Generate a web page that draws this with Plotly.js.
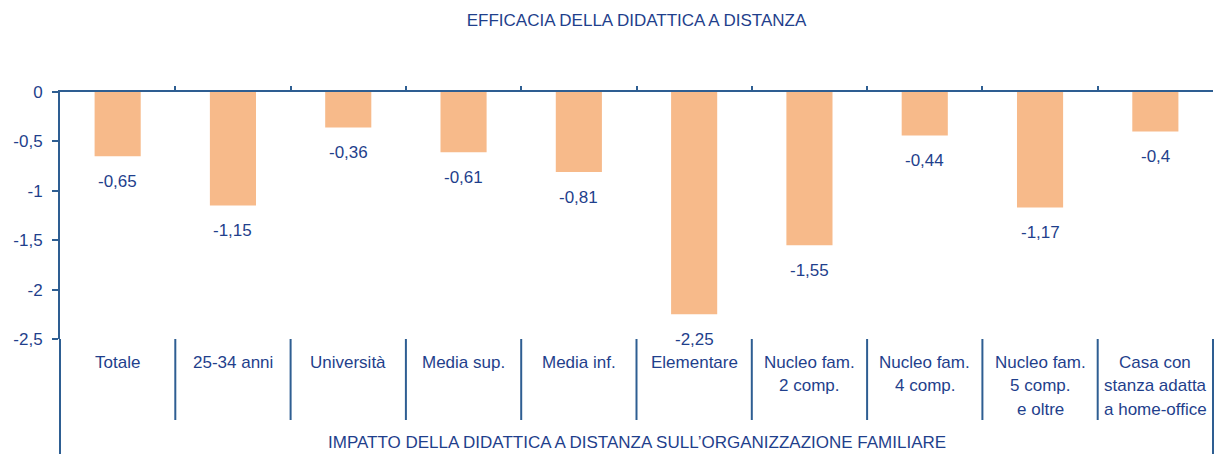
<!DOCTYPE html>
<html>
<head>
<meta charset="utf-8">
<script src="https://cdn.plot.ly/plotly-3.0.1.min.js"></script>
<style>html,body{margin:0;padding:0;background:#fff;}#chart{width:1215px;height:454px;}</style>
</head>
<body>
<div id="chart"></div>
<script>
const categories = ["Totale", "25-34 anni", "Università", "Media sup.", "Media inf.", "Elementare", "Nucleo fam.\n2 comp.", "Nucleo fam.\n4 comp.", "Nucleo fam.\n5 comp.\ne oltre", "Casa con\nstanza adatta\na home-office"];
const values = [-0.65, -1.15, -0.36, -0.61, -0.81, -2.25, -1.55, -0.44, -1.17, -0.4];
const yTickVals = [0, -0.5, -1, -1.5, -2, -2.5];
const yTickText = ["0", "-0,5", "-1", "-1,5", "-2", "-2,5"];
const chartTitle = "EFFICACIA DELLA DIDATTICA A DISTANZA";
const bottomTitle = "IMPATTO DELLA DIDATTICA A DISTANZA SULL\u2019ORGANIZZAZIONE FAMILIARE";

const TEXT = "#1F3F8C";
const AXIS = "#2E5E92";
const FONT = "Liberation Sans, Arial, sans-serif";
const FS = 17;
const plotH = 454 - 92 - 115;
const px2paper = p => p / plotH;

const xIdx = categories.map((c, i) => i);

const annotations = [];
values.forEach((v, i) => {
  annotations.push({
    x: i, y: v, xref: "x", yref: "y",
    text: String(v).replace(".", ","),
    showarrow: false, yanchor: "middle", yshift: -25,
    font: {family: FONT, size: FS, color: TEXT}
  });
});
categories.forEach((c, i) => {
  c.split("\n").forEach((line, j) => {
    annotations.push({
      x: i, y: 0, xref: "x", yref: "paper",
      text: line, showarrow: false, yanchor: "middle",
      yshift: -23 - 23.5 * j,
      font: {family: FONT, size: FS, color: TEXT}
    });
  });
});
annotations.push({
  x: 0.5, y: 0, xref: "paper", yref: "paper", text: bottomTitle,
  showarrow: false, yanchor: "middle", yshift: -103,
  font: {family: FONT, size: FS, color: TEXT}
});

const shapes = [];
for (let i = 0; i < categories.length - 1; i++) {
  shapes.push({type: "line", xref: "x", yref: "paper", x0: i + 0.5, x1: i + 0.5,
    y0: 0, y1: -px2paper(81), line: {color: AXIS, width: 2}});
}
shapes.push({type: "line", xref: "paper", yref: "paper", x0: 0, x1: 0, y0: 0, y1: -px2paper(115), line: {color: AXIS, width: 2}});
shapes.push({type: "line", xref: "paper", yref: "paper", x0: 1, x1: 1, y0: 0, y1: -px2paper(115), line: {color: AXIS, width: 2}});

const trace = {
  type: "bar", x: xIdx, y: values,
  marker: {color: "#F7BA8A"}, width: 0.4, hoverinfo: "none"
};

const layout = {
  width: 1215, height: 454,
  margin: {l: 60, r: 2, t: 92, b: 115},
  paper_bgcolor: "#fff", plot_bgcolor: "#fff",
  showlegend: false,
  title: {text: chartTitle, x: 0.5, xref: "paper", y: 1 - 20/454, yanchor: "middle",
    font: {family: FONT, size: FS, color: TEXT}},
  xaxis: {
    type: "linear", range: [-0.5, 9.5], side: "top", showline: true, linecolor: AXIS, linewidth: 2,
    tickvals: [0.5,1.5,2.5,3.5,4.5,5.5,6.5,7.5,8.5], ticks: "outside", ticklen: 4, tickcolor: AXIS, tickwidth: 2,
    showticklabels: false, showgrid: false, zeroline: false, fixedrange: true
  },
  yaxis: {
    range: [-2.5, 0], tickvals: yTickVals, ticktext: yTickText,
    showline: true, linecolor: AXIS, linewidth: 2, ticks: "outside", ticklen: 6, tickcolor: AXIS, tickwidth: 2,
    ticklabelstandoff: 6,
    showgrid: false, zeroline: false, tickfont: {family: FONT, size: FS, color: TEXT}, fixedrange: true
  },
  annotations: annotations,
  shapes: shapes
};

Plotly.newPlot("chart", [trace], layout, {displayModeBar: false, staticPlot: true});
</script>
</body>
</html>
